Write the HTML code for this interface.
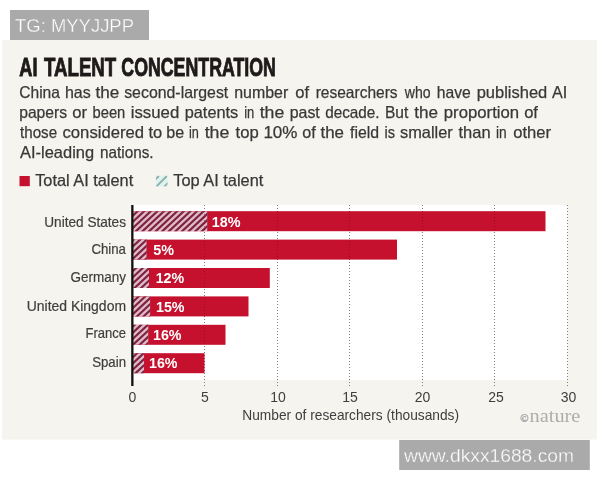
<!DOCTYPE html>
<html><head><meta charset="utf-8"><title>AI Talent Concentration</title>
<style>
html,body{margin:0;padding:0;background:#fff;}
body{width:600px;height:480px;overflow:hidden;position:relative;font-family:"Liberation Sans",sans-serif;}
svg{position:absolute;left:0;top:0;display:block;}
text{font-family:"Liberation Sans",sans-serif;}
.b{font-size:16.5px;fill:#383838;stroke:#383838;stroke-width:0.25px;}
.c{font-size:14.5px;fill:#3e3e3e;stroke:#3e3e3e;stroke-width:0.2px;}
.t{font-size:14px;fill:#3e3e3e;text-anchor:middle;}
.p{font-size:15.2px;font-weight:bold;fill:#fff;}
</style></head><body>
<svg width="600" height="480" viewBox="0 0 600 480">
<defs>
<clipPath id="c0"><rect x="133.0" y="211.2" width="74.5" height="20"/></clipPath>
<clipPath id="c1"><rect x="133.0" y="239.6" width="13.7" height="20"/></clipPath>
<clipPath id="c2"><rect x="133.0" y="268.0" width="16.0" height="20"/></clipPath>
<clipPath id="c3"><rect x="133.0" y="296.4" width="17.3" height="20"/></clipPath>
<clipPath id="c4"><rect x="133.0" y="324.8" width="15.5" height="20"/></clipPath>
<clipPath id="c5"><rect x="133.0" y="353.2" width="11.2" height="20"/></clipPath>
<clipPath id="bc"><rect x="133.0" y="211.2" width="412.5" height="20"/><rect x="133.0" y="239.6" width="264.0" height="20"/><rect x="133.0" y="268.0" width="136.8" height="20"/><rect x="133.0" y="296.4" width="115.5" height="20"/><rect x="133.0" y="324.8" width="92.5" height="20"/><rect x="133.0" y="353.2" width="71.5" height="20"/></clipPath>
<clipPath id="lg"><rect x="156" y="175.6" width="11.5" height="11"/></clipPath>
</defs>
<rect x="2" y="40" width="595" height="399.5" fill="#f5f4ee"/>
<rect x="10" y="10" width="139" height="30" fill="#aaaaaa"/>
<text x="15" y="32" font-size="19" fill="#fff" stroke="#aaaaaa" stroke-width="0.35" textLength="119" lengthAdjust="spacingAndGlyphs">TG: MYYJJPP</text>
<rect x="399.2" y="440" width="190.6" height="30" fill="#aaaaaa"/>
<text x="404" y="462" font-size="17.5" fill="#fff" stroke="#aaaaaa" stroke-width="0.3" textLength="170" lengthAdjust="spacingAndGlyphs">www.dkxx1688.com</text>
<g style="filter:blur(0.4px)">
<g font-size="25.8" font-weight="bold" fill="#1e1a1a" stroke="#1e1a1a" stroke-width="0.9">
<text x="19.3" y="76.2" textLength="18.2" lengthAdjust="spacingAndGlyphs">AI</text>
<text x="44" y="76.2" textLength="72.2" lengthAdjust="spacingAndGlyphs">TALENT</text>
<text x="121.3" y="76.2" textLength="154.6" lengthAdjust="spacingAndGlyphs">CONCENTRATION</text>
</g>
<text class="b" y="98"><tspan x="19.2" textLength="40.8" lengthAdjust="spacingAndGlyphs">China</tspan> <tspan x="64.94" textLength="25.86" lengthAdjust="spacingAndGlyphs">has</tspan> <tspan x="95.5" textLength="23.8" lengthAdjust="spacingAndGlyphs">the</tspan> <tspan x="124.2" textLength="104.1" lengthAdjust="spacingAndGlyphs">second-largest</tspan> <tspan x="234.2" textLength="54.1" lengthAdjust="spacingAndGlyphs">number</tspan> <tspan x="295.2" textLength="13.8" lengthAdjust="spacingAndGlyphs">of</tspan> <tspan x="315.7" textLength="81.9" lengthAdjust="spacingAndGlyphs">researchers</tspan> <tspan x="404.76" textLength="25.84" lengthAdjust="spacingAndGlyphs">who</tspan> <tspan x="436.76" textLength="34.04" lengthAdjust="spacingAndGlyphs">have</tspan> <tspan x="476.7" textLength="70.54" lengthAdjust="spacingAndGlyphs">published</tspan> <tspan x="552.0" textLength="15.24" lengthAdjust="spacingAndGlyphs">AI</tspan></text>
<text class="b" y="118"><tspan x="19.2" textLength="47.9" lengthAdjust="spacingAndGlyphs">papers</tspan> <tspan x="72.2" textLength="14.8" lengthAdjust="spacingAndGlyphs">or</tspan> <tspan x="92.5" textLength="32.8" lengthAdjust="spacingAndGlyphs">been</tspan> <tspan x="130.7" textLength="48.6" lengthAdjust="spacingAndGlyphs">issued</tspan> <tspan x="184.7" textLength="53.6" lengthAdjust="spacingAndGlyphs">patents</tspan> <tspan x="244.2" textLength="10.1" lengthAdjust="spacingAndGlyphs">in</tspan> <tspan x="259.7" textLength="24.6" lengthAdjust="spacingAndGlyphs">the</tspan> <tspan x="289.7" textLength="30.1" lengthAdjust="spacingAndGlyphs">past</tspan> <tspan x="325.2" textLength="54.4" lengthAdjust="spacingAndGlyphs">decade.</tspan> <tspan x="384.94" textLength="23.36" lengthAdjust="spacingAndGlyphs">But</tspan> <tspan x="414.28" textLength="23.82" lengthAdjust="spacingAndGlyphs">the</tspan> <tspan x="443.8" textLength="75.3" lengthAdjust="spacingAndGlyphs">proportion</tspan> <tspan x="524.2" textLength="13.78" lengthAdjust="spacingAndGlyphs">of</tspan></text>
<text class="b" y="138"><tspan x="20.0" textLength="37.1" lengthAdjust="spacingAndGlyphs">those</tspan> <tspan x="62.5" textLength="81.6" lengthAdjust="spacingAndGlyphs">considered</tspan> <tspan x="148.4" textLength="13.7" lengthAdjust="spacingAndGlyphs">to</tspan> <tspan x="166.2" textLength="17.9" lengthAdjust="spacingAndGlyphs">be</tspan> <tspan x="188.9" textLength="9.9" lengthAdjust="spacingAndGlyphs">in</tspan> <tspan x="204.7" textLength="24.7" lengthAdjust="spacingAndGlyphs">the</tspan> <tspan x="235.64" textLength="23.16" lengthAdjust="spacingAndGlyphs">top</tspan> <tspan x="263.4" textLength="34.1" lengthAdjust="spacingAndGlyphs">10%</tspan> <tspan x="302.2" textLength="13.44" lengthAdjust="spacingAndGlyphs">of</tspan> <tspan x="320.5" textLength="23.5" lengthAdjust="spacingAndGlyphs">the</tspan> <tspan x="350.0" textLength="29.1" lengthAdjust="spacingAndGlyphs">field</tspan> <tspan x="384.5" textLength="10.5" lengthAdjust="spacingAndGlyphs">is</tspan> <tspan x="400.0" textLength="52.7" lengthAdjust="spacingAndGlyphs">smaller</tspan> <tspan x="458.5" textLength="32.1" lengthAdjust="spacingAndGlyphs">than</tspan> <tspan x="495.9" textLength="10.7" lengthAdjust="spacingAndGlyphs">in</tspan> <tspan x="513.2" textLength="37.8" lengthAdjust="spacingAndGlyphs">other</tspan></text>
<text class="b" y="158"><tspan x="20.0" textLength="74.1" lengthAdjust="spacingAndGlyphs">AI-leading</tspan> <tspan x="100.0" textLength="53.6" lengthAdjust="spacingAndGlyphs">nations.</tspan></text>
<rect x="19.5" y="176" width="10.3" height="10.2" fill="#c5112e"/>
<text class="b" x="35.2" y="186.4" textLength="98" lengthAdjust="spacingAndGlyphs">Total AI talent</text>
<g clip-path="url(#lg)"><rect x="155" y="175" width="14" height="13" fill="#e1f3f0"/><path d="M148.3 186.6L158.9 176M156.3 186.6L166.9 176M164.3 186.6L174.9 176" stroke="#8fb3ad" stroke-width="1.9" fill="none"/></g>
<text class="b" x="173.3" y="186.4" textLength="90" lengthAdjust="spacingAndGlyphs">Top AI talent</text>
<rect x="133" y="205" width="434.5" height="175" fill="#fff"/>
<g stroke="#808080" stroke-width="1" stroke-dasharray="1 2"><line x1="204.5" y1="205" x2="204.5" y2="388"/><line x1="277.5" y1="205" x2="277.5" y2="388"/><line x1="349.5" y1="205" x2="349.5" y2="388"/><line x1="422.5" y1="205" x2="422.5" y2="388"/><line x1="494.5" y1="205" x2="494.5" y2="388"/><line x1="567.5" y1="205" x2="567.5" y2="388"/></g>
<g fill="#c5112e">
<rect x="133.0" y="211.2" width="412.5" height="20"/>
<rect x="133.0" y="239.6" width="264.0" height="20"/>
<rect x="133.0" y="268.0" width="136.8" height="20"/>
<rect x="133.0" y="296.4" width="115.5" height="20"/>
<rect x="133.0" y="324.8" width="92.5" height="20"/>
<rect x="133.0" y="353.2" width="71.5" height="20"/>
</g>
<g clip-path="url(#c0)"><rect x="133.0" y="211.2" width="74.5" height="20" fill="#dfb9c4"/>
<path d="M108.60 232.13L132.05 210.27M115.20 232.13L138.65 210.27M121.80 232.13L145.25 210.27M128.40 232.13L151.85 210.27M135.00 232.13L158.45 210.27M141.60 232.13L165.05 210.27M148.20 232.13L171.65 210.27M154.80 232.13L178.25 210.27M161.40 232.13L184.85 210.27M168.00 232.13L191.45 210.27M174.60 232.13L198.05 210.27M181.20 232.13L204.65 210.27M187.80 232.13L211.25 210.27M194.40 232.13L217.85 210.27M201.00 232.13L224.45 210.27M207.60 232.13L231.05 210.27" stroke="#7d2141" stroke-width="2.1" fill="none"/></g>
<g clip-path="url(#c1)"><rect x="133.0" y="239.6" width="13.7" height="20" fill="#dfb9c4"/>
<path d="M111.14 260.53L134.59 238.67M117.74 260.53L141.19 238.67M124.34 260.53L147.79 238.67M130.94 260.53L154.39 238.67M137.54 260.53L160.99 238.67M144.14 260.53L167.59 238.67" stroke="#7d2141" stroke-width="2.1" fill="none"/></g>
<g clip-path="url(#c2)"><rect x="133.0" y="268.0" width="16.0" height="20" fill="#dfb9c4"/>
<path d="M113.69 288.93L137.14 267.07M120.29 288.93L143.74 267.07M126.89 288.93L150.34 267.07M133.49 288.93L156.94 267.07M140.09 288.93L163.54 267.07M146.69 288.93L170.14 267.07" stroke="#7d2141" stroke-width="2.1" fill="none"/></g>
<g clip-path="url(#c3)"><rect x="133.0" y="296.4" width="17.3" height="20" fill="#dfb9c4"/>
<path d="M109.63 317.33L133.08 295.47M116.23 317.33L139.68 295.47M122.83 317.33L146.28 295.47M129.43 317.33L152.88 295.47M136.03 317.33L159.48 295.47M142.63 317.33L166.08 295.47M149.23 317.33L172.68 295.47" stroke="#7d2141" stroke-width="2.1" fill="none"/></g>
<g clip-path="url(#c4)"><rect x="133.0" y="324.8" width="15.5" height="20" fill="#dfb9c4"/>
<path d="M112.18 345.73L135.63 323.87M118.78 345.73L142.23 323.87M125.38 345.73L148.83 323.87M131.98 345.73L155.43 323.87M138.58 345.73L162.03 323.87M145.18 345.73L168.63 323.87" stroke="#7d2141" stroke-width="2.1" fill="none"/></g>
<g clip-path="url(#c5)"><rect x="133.0" y="353.2" width="11.2" height="20" fill="#dfb9c4"/>
<path d="M108.12 374.13L131.57 352.27M114.72 374.13L138.17 352.27M121.32 374.13L144.77 352.27M127.92 374.13L151.37 352.27M134.52 374.13L157.97 352.27M141.12 374.13L164.57 352.27" stroke="#7d2141" stroke-width="2.1" fill="none"/></g>
<g clip-path="url(#bc)" stroke="#5a0a18" stroke-width="1" stroke-dasharray="1 2" opacity="0.45"><line x1="204.5" y1="205" x2="204.5" y2="388"/><line x1="277.5" y1="205" x2="277.5" y2="388"/><line x1="349.5" y1="205" x2="349.5" y2="388"/><line x1="422.5" y1="205" x2="422.5" y2="388"/><line x1="494.5" y1="205" x2="494.5" y2="388"/><line x1="567.5" y1="205" x2="567.5" y2="388"/></g>
<rect x="131.2" y="205" width="2.3" height="181" fill="#111"/>
<text class="p" x="211.7" y="227.0" textLength="28.8" lengthAdjust="spacingAndGlyphs">18%</text>
<text class="p" x="153.3" y="255.2" textLength="20.7" lengthAdjust="spacingAndGlyphs">5%</text>
<text class="p" x="155.7" y="283.4" textLength="28.5" lengthAdjust="spacingAndGlyphs">12%</text>
<text class="p" x="156.0" y="311.6" textLength="28.5" lengthAdjust="spacingAndGlyphs">15%</text>
<text class="p" x="153.0" y="339.8" textLength="28.5" lengthAdjust="spacingAndGlyphs">16%</text>
<text class="p" x="149.0" y="368.0" textLength="28.5" lengthAdjust="spacingAndGlyphs">16%</text>
<text class="c" x="44.3" y="226.6" textLength="81.7" lengthAdjust="spacingAndGlyphs">United States</text>
<text class="c" x="91.4" y="254.4" textLength="34.6" lengthAdjust="spacingAndGlyphs">China</text>
<text class="c" x="70.5" y="282.4" textLength="55.5" lengthAdjust="spacingAndGlyphs">Germany</text>
<text class="c" x="26.8" y="310.5" textLength="99.2" lengthAdjust="spacingAndGlyphs">United Kingdom</text>
<text class="c" x="85.5" y="338.3" textLength="40.5" lengthAdjust="spacingAndGlyphs">France</text>
<text class="c" x="92.2" y="366.5" textLength="33.8" lengthAdjust="spacingAndGlyphs">Spain</text>
<text class="t" x="132.3" y="402.3">0</text>
<text class="t" x="205" y="402.3">5</text>
<text class="t" x="278" y="402.3">10</text>
<text class="t" x="350" y="402.3">15</text>
<text class="t" x="422.5" y="402.3">20</text>
<text class="t" x="496" y="402.3">25</text>
<text class="t" x="568.5" y="402.3">30</text>
<text x="242.3" y="420" font-size="14.5" fill="#3e3e3e" textLength="216.7" lengthAdjust="spacingAndGlyphs">Number of researchers (thousands)</text>
<g fill="#adadad" style="font-family:'Liberation Serif',serif"><text x="520.3" y="422" font-size="11" stroke="#adadad" stroke-width="0.5" style="font-family:'Liberation Serif',serif">©</text><text x="529.6" y="422.2" font-size="19.4" textLength="50.8" lengthAdjust="spacingAndGlyphs" style="font-family:'Liberation Serif',serif">nature</text></g>
</g>
</svg>
</body></html>
